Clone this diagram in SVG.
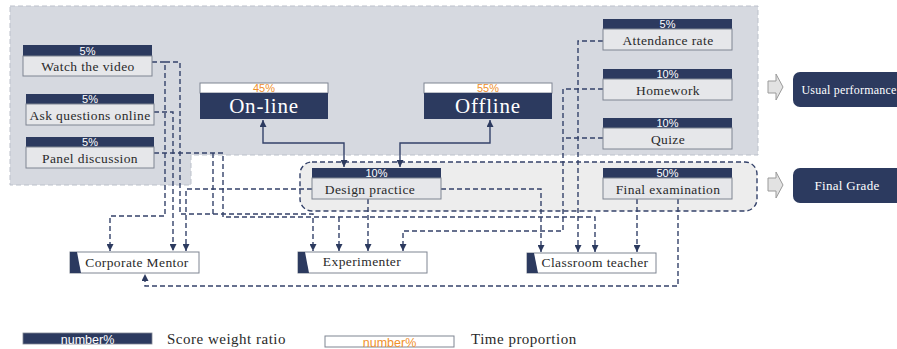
<svg xmlns="http://www.w3.org/2000/svg" width="897" height="349" viewBox="0 0 897 349">
<style>
.hd{fill:#2c3a5f}
.bd{fill:#e6e7ea;stroke:#7f8592;stroke-width:1}
.wh{fill:#ffffff;stroke:#7f8592;stroke-width:1}
.sr{font-family:"Liberation Serif","Times New Roman",serif;fill:#2a2a2a;text-anchor:middle}
.pc{font-family:"Liberation Sans",Arial,sans-serif;font-size:11px;fill:#ffffff;text-anchor:middle}
.po{font-family:"Liberation Sans",Arial,sans-serif;font-size:11px;fill:#f0912c;text-anchor:middle}
.lg{font-size:12.5px}
.big{font-family:"Liberation Serif","Times New Roman",serif;font-size:21px;fill:#ffffff;text-anchor:middle;letter-spacing:0.8px}
.dl{fill:none;stroke:#34426a;stroke-width:1.4;stroke-dasharray:5,3}
.sl{fill:none;stroke:#34426a;stroke-width:1.4}
.ha{fill:#e2e2e2;stroke:#9a9a9a;stroke-width:1}
.rb{fill:#2c3a5f}
.rt{font-family:"Liberation Serif","Times New Roman",serif;fill:#ffffff;text-anchor:middle}
</style>
<defs>
<marker id="ah" viewBox="0 0 8 8" refX="8" refY="4" markerWidth="7" markerHeight="7" markerUnits="userSpaceOnUse" orient="auto-start-reverse">
<path d="M0,0 L8,4 L0,8 z" fill="#2c3a5f"/>
</marker>
</defs>

<g id="regions">
<path d="M10,6 H758 V155 H191 V185 H10 Z" fill="#d6d9e0" stroke="#bcc1cb" stroke-width="1" stroke-dasharray="5,3"/>
<rect x="300" y="162" width="457" height="49" rx="12" fill="#ededed" stroke="#34426a" stroke-width="1.4" stroke-dasharray="5,3"/>
</g>

<g id="connectors">
<path class="sl" d="M344,167 V143 H263 V120" marker-start="url(#ah)" marker-end="url(#ah)"/>
<path class="sl" d="M400,167 V143 H490 V120" marker-start="url(#ah)" marker-end="url(#ah)"/>
<path class="dl" d="M152,62 H165 V216 H110 V251" marker-end="url(#ah)"/>
<path class="dl" d="M165,62 H180 V214 H313 V251" marker-end="url(#ah)"/>
<path class="dl" d="M154,112 H173 V251" marker-end="url(#ah)"/>
<path class="dl" d="M312,189 H186 V251" marker-end="url(#ah)"/>
<path class="dl" d="M154,153 H223 V217 H595 V252" marker-end="url(#ah)"/>
<path class="dl" d="M213,153 V214"/>
<path class="dl" d="M339,217 V251" marker-end="url(#ah)"/>
<path class="dl" d="M368,199 V251" marker-end="url(#ah)"/>
<path class="dl" d="M441,189 H541 V252" marker-end="url(#ah)"/>
<path class="dl" d="M603,89 H563 V231 H403 V251" marker-end="url(#ah)"/>
<path class="dl" d="M603,138 H563"/>
<path class="dl" d="M603,41 H578 V252" marker-end="url(#ah)"/>
<path class="dl" d="M637,199 V252" marker-end="url(#ah)"/>
<path class="dl" d="M678,199 V286 H145 V274" marker-end="url(#ah)"/>
</g>

<g id="watch">
<rect class="hd" x="23" y="45" width="129" height="11"/>
<rect class="bd" x="23" y="56" width="129" height="20"/>
<text class="pc" x="87.5" y="54.5">5%</text>
<text class="sr" x="88" y="71" font-size="13.5" letter-spacing="0.4">Watch the video</text>
</g>
<g id="ask">
<rect class="hd" x="26" y="94" width="128" height="10"/>
<rect class="bd" x="26" y="104" width="128" height="21"/>
<text class="pc" x="90" y="103">5%</text>
<text class="sr" x="90" y="120" font-size="13.5" letter-spacing="0.4">Ask questions online</text>
</g>
<g id="panel">
<rect class="hd" x="26" y="137" width="128" height="10"/>
<rect class="bd" x="26" y="147" width="128" height="21"/>
<text class="pc" x="90" y="146">5%</text>
<text class="sr" x="90" y="163" font-size="13.5" letter-spacing="0.4">Panel discussion</text>
</g>

<g id="online">
<rect class="wh" x="200" y="83" width="128" height="10"/>
<rect class="hd" x="200" y="93" width="128" height="26"/>
<text class="po" x="264" y="92">45%</text>
<text class="big" x="264" y="113">On-line</text>
</g>
<g id="offline">
<rect class="wh" x="424" y="83" width="128" height="10"/>
<rect class="hd" x="424" y="93" width="128" height="26"/>
<text class="po" x="488" y="92">55%</text>
<text class="big" x="488" y="113">Offline</text>
</g>

<g id="design">
<rect class="hd" x="312" y="168" width="129" height="10"/>
<rect class="bd" x="312" y="178" width="129" height="21"/>
<text class="pc" x="376.5" y="177">10%</text>
<text class="sr" x="370" y="194" font-size="13.5" letter-spacing="0.4">Design practice</text>
</g>
<g id="final">
<rect class="hd" x="603" y="168" width="129" height="10"/>
<rect class="bd" x="603" y="178" width="129" height="21"/>
<text class="pc" x="667.5" y="177">50%</text>
<text class="sr" x="668" y="194" font-size="13.5" letter-spacing="0.4">Final examination</text>
</g>
<g id="attendance">
<rect class="hd" x="603" y="19" width="129" height="10"/>
<rect class="bd" x="603" y="29" width="129" height="21"/>
<text class="pc" x="667.5" y="28">5%</text>
<text class="sr" x="668" y="45" font-size="13.5" letter-spacing="0.4">Attendance rate</text>
</g>
<g id="homework">
<rect class="hd" x="603" y="69" width="129" height="10"/>
<rect class="bd" x="603" y="79" width="129" height="21"/>
<text class="pc" x="667.5" y="78">10%</text>
<text class="sr" x="668" y="95" font-size="13.5" letter-spacing="0.4">Homework</text>
</g>
<g id="quize">
<rect class="hd" x="603" y="118" width="129" height="10"/>
<rect class="bd" x="603" y="128" width="129" height="21"/>
<text class="pc" x="667.5" y="127">10%</text>
<text class="sr" x="668" y="144" font-size="13.5" letter-spacing="0.4">Quize</text>
</g>

<g id="usual">
<path class="ha" d="M768,81 H776 V74 L783,87 L776,100 V93 H768 Z"/>
<rect class="rb" x="793" y="72" width="110" height="35" rx="7"/>
<text class="rt" x="849" y="94" font-size="12" letter-spacing="0.2">Usual performance</text>
</g>
<g id="grade">
<path class="ha" d="M768,178 H776 V172 L783,185 L776,198 V191 H768 Z"/>
<rect class="rb" x="793" y="168" width="110" height="35" rx="7"/>
<text class="rt" x="847" y="190" font-size="13" letter-spacing="0.3">Final Grade</text>
</g>

<g id="mentor">
<rect class="wh" x="70" y="252" width="129" height="21"/>
<path class="hd" d="M70,252 H77 L81,273 H70 Z"/>
<text class="sr" x="137" y="267" font-size="13.5" letter-spacing="0.4">Corporate Mentor</text>
</g>
<g id="experimenter">
<rect class="wh" x="298" y="252" width="129" height="21"/>
<path class="hd" d="M298,252 H305 L309,273 H298 Z"/>
<text class="sr" x="362" y="266" font-size="13.5" letter-spacing="0.4">Experimenter</text>
</g>
<g id="teacher">
<rect class="wh" x="527" y="253" width="129" height="20"/>
<path class="hd" d="M527,253 H534 L538,273 H527 Z"/>
<text class="sr" x="595" y="267" font-size="13.5" letter-spacing="0.4">Classroom teacher</text>
</g>

<g id="legend">
<rect x="23" y="333" width="129" height="11" fill="#2c3a5f" stroke="#7f8592" stroke-width="0.8"/>
<text class="pc lg" x="87.5" y="343.5">number%</text>
<text x="167" y="344" font-family="Liberation Serif,serif" font-size="15" fill="#2a2a2a" letter-spacing="0.5">Score weight ratio</text>
<rect class="wh" x="325" y="336" width="129" height="11"/>
<text class="po lg" x="389.5" y="346.5">number%</text>
<text x="471" y="344" font-family="Liberation Serif,serif" font-size="15" fill="#2a2a2a" letter-spacing="0.5">Time proportion</text>
</g>
</svg>
